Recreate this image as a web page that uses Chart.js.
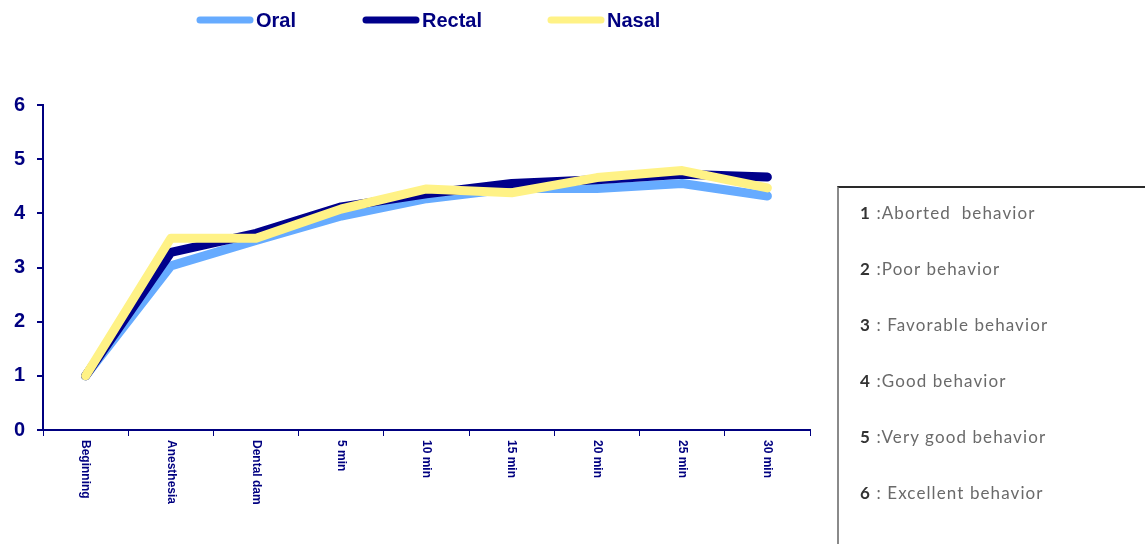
<!DOCTYPE html>
<html>
<head>
<meta charset="utf-8">
<script src="https://cdn.jsdelivr.net/npm/chart.js@4.4.1/dist/chart.umd.min.js"></script>
<style>
  html, body { margin: 0; padding: 0; background: #fff; overflow: hidden; }
  #wrap { position: relative; width: 1145px; height: 544px; }
  #c { position: absolute; left: 0; top: 0; }
  #scale-box {
    position: absolute; left: 837px; top: 186px; width: 330px; height: 400px;
    border-top: 2px solid #2a2a2a; border-left: 2px solid #8a8a8a;
    font-family: Lato, "Open Sans", sans-serif; font-size: 17px; color: #6a6a6a;
  }
  #scale-box div { position: absolute; left: 21px; white-space: pre; letter-spacing: 1.1px; }
  #scale-box b { color: #333; font-weight: 700; }
</style>
</head>
<body>
<div id="wrap">
  <canvas id="c" width="1145" height="544"></canvas>
  <div id="scale-box"></div>
</div>
<script>
// Time points of the observation
const categories = ['Beginning', 'Anesthesia', 'Dental dam', '5 min', '10 min', '15 min', '20 min', '25 min', '30 min'];

// Mean behaviour score per route of sedation
const oralValues   = [1, 3.03, 3.50, 3.95, 4.27, 4.46, 4.46, 4.55, 4.32];
const rectalValues = [1, 3.28, 3.63, 4.12, 4.36, 4.55, 4.62, 4.72, 4.67];
const nasalValues  = [1, 3.54, 3.54, 4.08, 4.45, 4.38, 4.66, 4.79, 4.47];

const seriesNames  = ['Oral', 'Rectal', 'Nasal'];
const seriesColors = ['#66abff', '#00008b', '#fff286'];

const yTicks = [0, 1, 2, 3, 4, 5, 6];

// Behaviour rating scale shown beside the chart
const scaleNumbers = ['1', '2', '3', '4', '5', '6'];
const scaleTexts = [' :Aborted  behavior', ' :Poor behavior', ' : Favorable behavior', ' :Good behavior', ' :Very good behavior', ' : Excellent behavior'];

const box = document.getElementById('scale-box');
scaleNumbers.forEach((n, i) => {
  const d = document.createElement('div');
  d.style.top = (14 + i * 56) + 'px';
  d.innerHTML = '<b>' + n + '</b>' + scaleTexts[i];
  box.appendChild(d);
});

const NAVY = '#000080';
const valueSets = [oralValues, rectalValues, nasalValues];

const datasets = valueSets.map((vals, i) => ({
  label: seriesNames[i],
  data: vals,
  borderColor: seriesColors[i],
  backgroundColor: seriesColors[i],
  borderWidth: 9,
  borderCapStyle: 'round',
  borderJoinStyle: 'round',
  pointRadius: 0,
  pointHoverRadius: 0,
  tension: 0,
  fill: false,
  order: 3 - i
}));

// Top legend: coloured stroke followed by bold series name
const topLegend = {
  id: 'topLegend',
  afterDraw(chart) {
    const ctx = chart.ctx;
    const starts = [197, 363, 548];
    ctx.save();
    chart.data.datasets.forEach((ds, i) => {
      const x = starts[i];
      ctx.strokeStyle = ds.borderColor;
      ctx.lineWidth = 7;
      ctx.lineCap = 'round';
      ctx.beginPath();
      ctx.moveTo(x + 3, 20);
      ctx.lineTo(x + 53, 20);
      ctx.stroke();
      ctx.fillStyle = NAVY;
      ctx.font = 'bold 20px Arial, "Liberation Sans", sans-serif';
      ctx.textBaseline = 'middle';
      ctx.textAlign = 'left';
      ctx.fillText(ds.label, x + 59, 21);
    });
    ctx.restore();
  }
};

// Category names written downward under each x position
const verticalLabels = {
  id: 'verticalLabels',
  afterDraw(chart) {
    const ctx = chart.ctx;
    const xs = chart.scales.x;
    ctx.save();
    ctx.fillStyle = NAVY;
    ctx.font = 'bold 12px Arial, "Liberation Sans", sans-serif';
    ctx.textAlign = 'left';
    ctx.textBaseline = 'middle';
    chart.data.labels.forEach((lab, i) => {
      const x = xs.getPixelForTick(i);
      ctx.save();
      ctx.translate(x, xs.top + 10);
      ctx.rotate(Math.PI / 2);
      ctx.fillText(lab, 0, 0);
      ctx.restore();
    });
    ctx.restore();
  }
};

new Chart(document.getElementById('c'), {
  type: 'line',
  data: { labels: categories, datasets },
  plugins: [topLegend, verticalLabels],
  options: {
    responsive: false,
    animation: false,
    devicePixelRatio: 1,
    layout: { padding: { left: 0, right: 335, top: 105, bottom: 0 } },
    plugins: { legend: { display: false }, tooltip: { enabled: false } },
    scales: {
      x: {
        type: 'category',
        offset: true,
        grid: { display: true, offset: true, drawOnChartArea: false, drawTicks: true, tickLength: 6, color: NAVY, lineWidth: 1 },
        border: { display: true, color: NAVY, width: 2 },
        ticks: { display: false },
        afterFit(s) { s.height = 114; }
      },
      y: {
        min: 0, max: 6,
        afterBuildTicks(s) { s.ticks = yTicks.map(v => ({ value: v })); },
        grid: { display: true, drawOnChartArea: false, drawTicks: true, tickLength: 6, color: NAVY, lineWidth: 2 },
        border: { display: true, color: NAVY, width: 2 },
        ticks: {
          color: NAVY,
          padding: 12,
          font: { family: 'Arial, "Liberation Sans", sans-serif', size: 20, weight: 'bold' }
        },
        afterFit(s) { s.width = 43; }
      }
    }
  }
});
</script>
</body>
</html>
